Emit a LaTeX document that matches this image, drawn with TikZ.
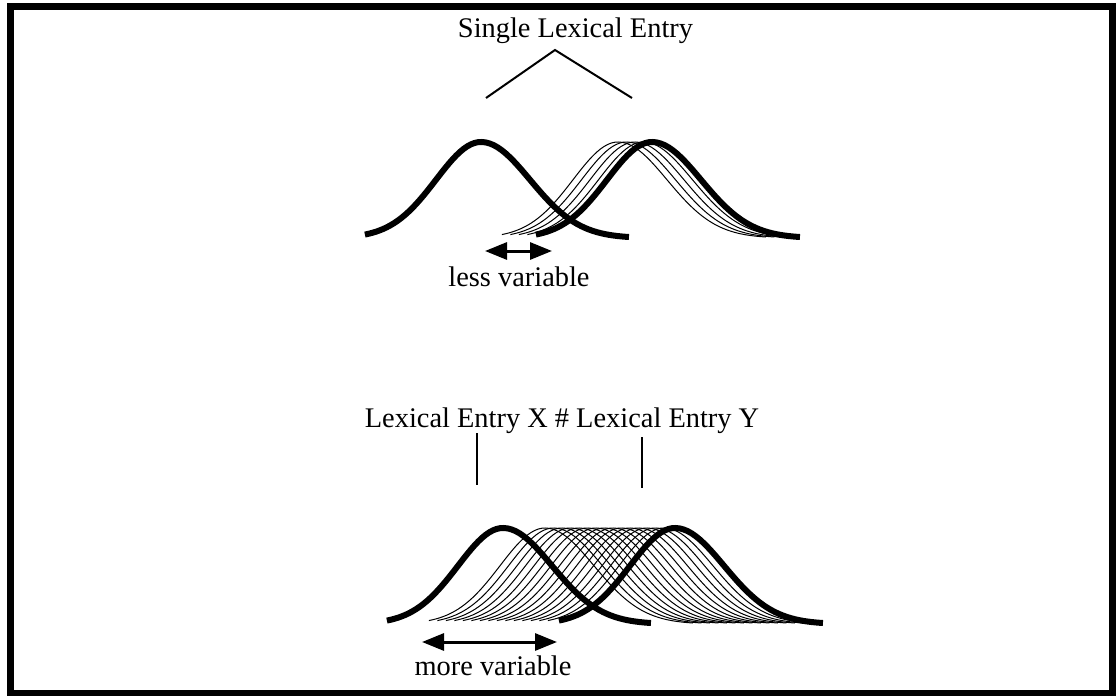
\documentclass[tikz,border=0pt]{standalone}
\usepackage{fontspec}
\setmainfont{Liberation Serif}
\usepackage{tikz}
\usetikzlibrary{arrows.meta, positioning, calc}

\tikzset{
  thickcurve/.style={line width=3pt},
  thincurve/.style={line width=0.5pt},
  stemline/.style={line width=1pt},
  vararrow/.style={line width=1.5pt, {Triangle[length=11pt, width=8.5pt]}-{Triangle[length=11pt, width=8.5pt]}},
  labeltext/.style={font=\fontsize{14.2}{17}\selectfont, anchor=base, inner sep=0pt},
  bellplot/.style={domain=-2.58:3.02, samples=70},
}

\begin{document}
\begin{tikzpicture}[x=0.5pt, y=-0.5pt,
  declare function={bell(\t)=96*exp(-\t*\t/2); spread(\t)=(\t<0 ? 45 : 49);}]
\useasboundingbox (0,0) rectangle (1116,696);
% frame
\draw[line width=3.5pt] (10.5,6.5) rectangle (1112.5,693);

% --- Top: single lexical entry ---
\node[labeltext] (single) at (575.5,38) {Single Lexical Entry};
\coordinate (apex) at (555,50);
\coordinate (capL) at (486,98);
\coordinate (capR) at (632,98);
\draw[stemline] (capL) -- (apex) -- (capR);
\draw[thickcurve] plot[bellplot] ({481+spread(\x)*\x}, {238-bell(\x)});
\foreach \m in {618,626.5,635,643.5} {
  \draw[thincurve] plot[bellplot] ({\m+spread(\x)*\x}, {238-bell(\x)});
}
\draw[thickcurve] plot[bellplot] ({652+spread(\x)*\x}, {238-bell(\x)});
\coordinate (lessL) at (485,251);
\coordinate (lessR) at (552,251);
\draw[vararrow] (lessL) -- (lessR);
\node[labeltext] (less) at (519,286) {less variable};

% --- Bottom: two lexical entries ---
\node[labeltext] (twoentries) at (562,427) {Lexical Entry X \# Lexical Entry Y};
\coordinate (stemXtop) at (477,433);
\coordinate (stemXbot) at (477,485);
\coordinate (stemYtop) at (642,437);
\coordinate (stemYbot) at (642,488);
\draw[stemline] (stemXtop) -- (stemXbot);
\draw[stemline] (stemYtop) -- (stemYbot);
\draw[thickcurve] plot[bellplot] ({503+spread(\x)*\x}, {624-bell(\x)});
\foreach \m in {545,553.5,...,665} {
  \draw[thincurve] plot[bellplot] ({\m+spread(\x)*\x}, {624-bell(\x)});
}
\draw[thickcurve] plot[bellplot] ({675+spread(\x)*\x}, {624-bell(\x)});
\coordinate (moreL) at (422,642);
\coordinate (moreR) at (557,642);
\draw[vararrow] (moreL) -- (moreR);
\node[labeltext] (more) at (493,675) {more variable};
\end{tikzpicture}
\end{document}
